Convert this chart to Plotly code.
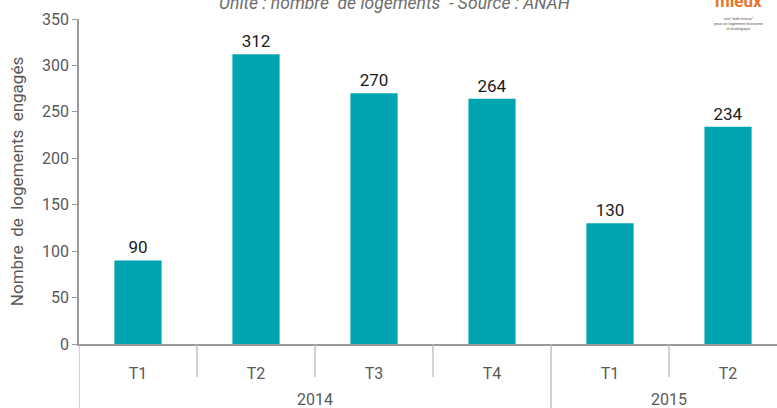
import plotly.graph_objects as go

years = ["2014", "2014", "2014", "2014", "2015", "2015"]
quarters = ["T1", "T2", "T3", "T4", "T1", "T2"]
values = [90, 312, 270, 264, 130, 234]

W, H = 777, 408
L, R, T, B = 79, 0, 19, 64
pw = W - L - R
ph = H - T - B

def px_x(x):
    return (x - L) / pw

def px_y(y):
    return (H - B - y) / ph

idx = list(range(len(quarters)))

fig = go.Figure()
fig.add_trace(go.Bar(
    x=idx, y=values,
    marker=dict(color="#00A4B0", line=dict(width=0)),
    width=0.4,
    text=[str(v) for v in values], textposition="outside",
    textfont=dict(size=17, color="#1a1a1a", family="Roboto"),
    cliponaxis=False,
))

grey = "#9a9a9a"
lgrey = "#b4b4b4"
fig.update_layout(
    width=W, height=H,
    margin=dict(l=L, r=R, t=T, b=B, autoexpand=False),
    plot_bgcolor="white", paper_bgcolor="white",
    font=dict(family="Roboto", color="#595959", size=16),
    showlegend=False,
    xaxis=dict(
        range=[-0.5, 5.415],
        tickvals=idx, ticktext=quarters,
        showline=True, linecolor=grey, linewidth=1.5,
        ticks="", ticklabelstandoff=14,
        tickfont=dict(size=16, color="#595959"),
        showgrid=False, zeroline=False, automargin=False,
    ),
    yaxis=dict(
        range=[0, 350], dtick=50,
        showline=True, linecolor=grey, linewidth=1.5,
        ticks="outside", ticklen=5, tickcolor=grey,
        showgrid=False, zeroline=False,
        tickfont=dict(size=16, color="#595959"),
        title=dict(text="Nombre&nbsp; de&nbsp; logements&nbsp; engagés",
                   font=dict(size=17, color="#595959"), standoff=14),
        automargin=False,
    ),
)

# inner boundaries (between quarters of same year)
for i in range(len(quarters) - 1):
    if years[i] == years[i + 1]:
        fig.add_shape(type="line", xref="x", yref="paper",
                      x0=i + 0.5, x1=i + 0.5, y0=0, y1=px_y(377),
                      line=dict(color=lgrey, width=1.2))
# year boundaries (full height of axis area)
bounds = [-0.5] + [i + 0.5 for i in range(len(quarters) - 1) if years[i] != years[i + 1]]
for b in bounds:
    fig.add_shape(type="line", xref="x", yref="paper",
                  x0=b, x1=b, y0=0, y1=px_y(410),
                  line=dict(color=lgrey, width=1.2))
# year labels
seen = []
for y in years:
    if y not in seen:
        seen.append(y)
for y in seen:
    pos = [i for i, v in enumerate(years) if v == y]
    fig.add_annotation(text=y, xref="x", yref="paper",
                       x=sum(pos) / len(pos), y=px_y(399),
                       xanchor="center", yanchor="middle", showarrow=False,
                       font=dict(size=16, color="#595959"))

fig.add_annotation(
    text="<i>Unité : nombre&nbsp; de logements&nbsp; - Source : ANAH</i>",
    xref="paper", yref="paper", x=px_x(394), y=px_y(3),
    xanchor="center", yanchor="middle", showarrow=False,
    font=dict(size=17.5, color="#6e6e6e", family="Roboto"),
)
# logo approximation
fig.add_annotation(
    text="<b>mieux</b>",
    xref="paper", yref="paper", x=px_x(738), y=px_y(1),
    xanchor="center", yanchor="middle", showarrow=False,
    font=dict(size=17, color="#e8742a", family="Roboto"),
)
fig.add_annotation(
    text="une \"aide-mieux\"<br>pour un logement économe<br>et écologique",
    xref="paper", yref="paper", x=px_x(738), y=px_y(23),
    xanchor="center", yanchor="middle", showarrow=False,
    font=dict(size=4, color="#555555"),
)

fig.write_html("out.html")
